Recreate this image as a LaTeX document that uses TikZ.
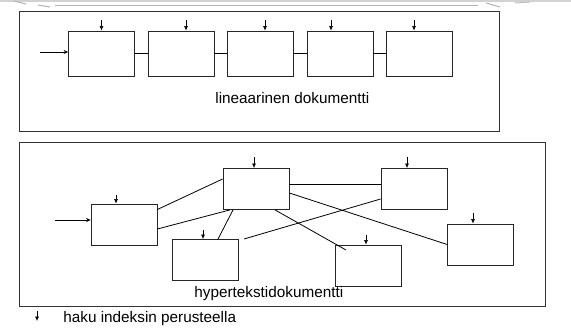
\documentclass[tikz,border=0pt]{standalone}
\usepackage{fontspec}
\setmainfont{Liberation Sans}
\usetikzlibrary{arrows.meta}

\begin{document}
\begin{tikzpicture}
  [x=1pt,y=-1pt,line width=0.8pt,
   every node/.style={font=\fontsize{15.3}{18}\selectfont},
   doc/.style={draw=black!85,rectangle,minimum width=66pt,minimum height=41pt,inner sep=0pt},
   frame/.style={draw=black!80,line width=0.9pt},
   hit/.style={-{Latex[length=4.5pt,width=4pt]},line width=0.6pt},
   entry/.style={-{Stealth[length=4.5pt,width=4pt]},line width=0.6pt}] % doc is the box of one page, hit is the small index arrow

  \useasboundingbox (0,0) rectangle (571,329);

  % scanned edge at the top
  \draw[gray!35,line width=1.5pt] (0,1) -- (571,1);
  \draw[gray!60,line width=1pt] (55,6) -- (478,6);
  \draw[gray!60,line width=1pt] (14,1) -- (26,4);
  \draw[gray!60,line width=1pt] (38,5) -- (50,7);
  \draw[gray!60,line width=1pt] (486,3) -- (500,7);
  \draw[gray!50,line width=1pt] (515,3) -- (530,2);

  \draw[frame] (19,11) rectangle (499,131);
  \draw[frame] (19,142) rectangle (545,306);

  % linear document
  \node[doc,minimum height=45pt] (l1) at (101.5,53.5) {};
  \node[doc,minimum height=45pt] (l2) at (181,53.5)   {};
  \node[doc,minimum height=45pt] (l3) at (260.5,53.5) {};
  \node[doc,minimum height=45pt] (l4) at (340,53.5)   {};
  \node[doc,minimum height=45pt] (l5) at (419,53.5)   {};
  \coordinate (lin) at (40,52);

  \draw[entry] (lin) -- ([yshift=1.5pt]l1.west);
  \draw (l1) -- (l2); % the pages follow one after another
  \draw (l2) -- (l3);
  \draw (l3) -- (l4);
  \draw (l4) -- (l5);

  \draw[hit] ([yshift=11pt]l1.north) -- (l1.north);
  \draw[hit] ([xshift=5pt,yshift=11pt]l2.north) -- ([xshift=5pt]l2.north);
  \draw[hit] ([xshift=4.5pt,yshift=11pt]l3.north) -- ([xshift=4.5pt]l3.north);
  \draw[hit] ([xshift=-9pt,yshift=11pt]l4.north) -- ([xshift=-9pt]l4.north);
  \draw[hit] ([xshift=-5pt,yshift=11pt]l5.north) -- ([xshift=-5pt]l5.north);

  \node[anchor=base west,inner sep=0pt] (linlabel) at (215,104) {lineaarinen dokumentti};

  % hypertext document
  \node[doc] (h1) at (124,224.5)   {};
  \node[doc] (h2) at (256,189)     {};
  \node[doc] (h3) at (205.5,260)   {};
  \node[doc] (h4) at (414,189)     {};
  \node[doc] (h5) at (480.5,244.5) {};
  \node[doc] (h6) at (368.5,265.5) {};
  \coordinate (hin) at (55,220);
  \coordinate (h3end) at (244,239);
  \coordinate (h6end) at (346,250);

  \draw[entry] (hin) -- ([yshift=4.5pt]h1.west);
  \draw ([yshift=15pt]h1.east) -- ([yshift=10pt]h2.west); % links go in every direction
  \draw ([yshift=-4.5pt]h1.east) -- ([xshift=-26pt]h2.south);
  \draw ([xshift=-23pt]h2.south) -- ([xshift=12.5pt]h3.north);
  \draw ([yshift=5pt]h2.east) -- ([yshift=5pt]h4.west);
  \draw ([yshift=-4pt]h2.east) -- (h5.west);
  \draw ([xshift=19pt]h2.south) -- (h6end);
  \draw (h3end) -- ([yshift=-10pt]h4.west);

  \draw[hit] ([xshift=-8pt,yshift=9pt]h1.north) -- ([xshift=-8pt]h1.north);
  \draw[hit] ([xshift=-2pt,yshift=11pt]h2.north) -- ([xshift=-2pt]h2.north);
  \draw[hit] ([xshift=-2.5pt,yshift=9pt]h3.north) -- ([xshift=-2.5pt]h3.north);
  \draw[hit] ([xshift=-7pt,yshift=11pt]h4.north) -- ([xshift=-7pt]h4.north);
  \draw[hit] ([xshift=-7.5pt,yshift=11pt]h5.north) -- ([xshift=-7.5pt]h5.north);
  \draw[hit] ([xshift=-2.5pt,yshift=10pt]h6.north) -- ([xshift=-2.5pt]h6.north);

  \node[anchor=base west,inner sep=0pt] (hyplabel) at (194,297) {hypertekstidokumentti};

  % legend
  \coordinate (k1) at (37,311);
  \coordinate (k2) at (37,321);
  \draw[hit] (k1) -- (k2);
  \node[anchor=base west,inner sep=0pt] (keylabel) at (63,322) {haku indeksin perusteella};

\end{tikzpicture}
\end{document}
